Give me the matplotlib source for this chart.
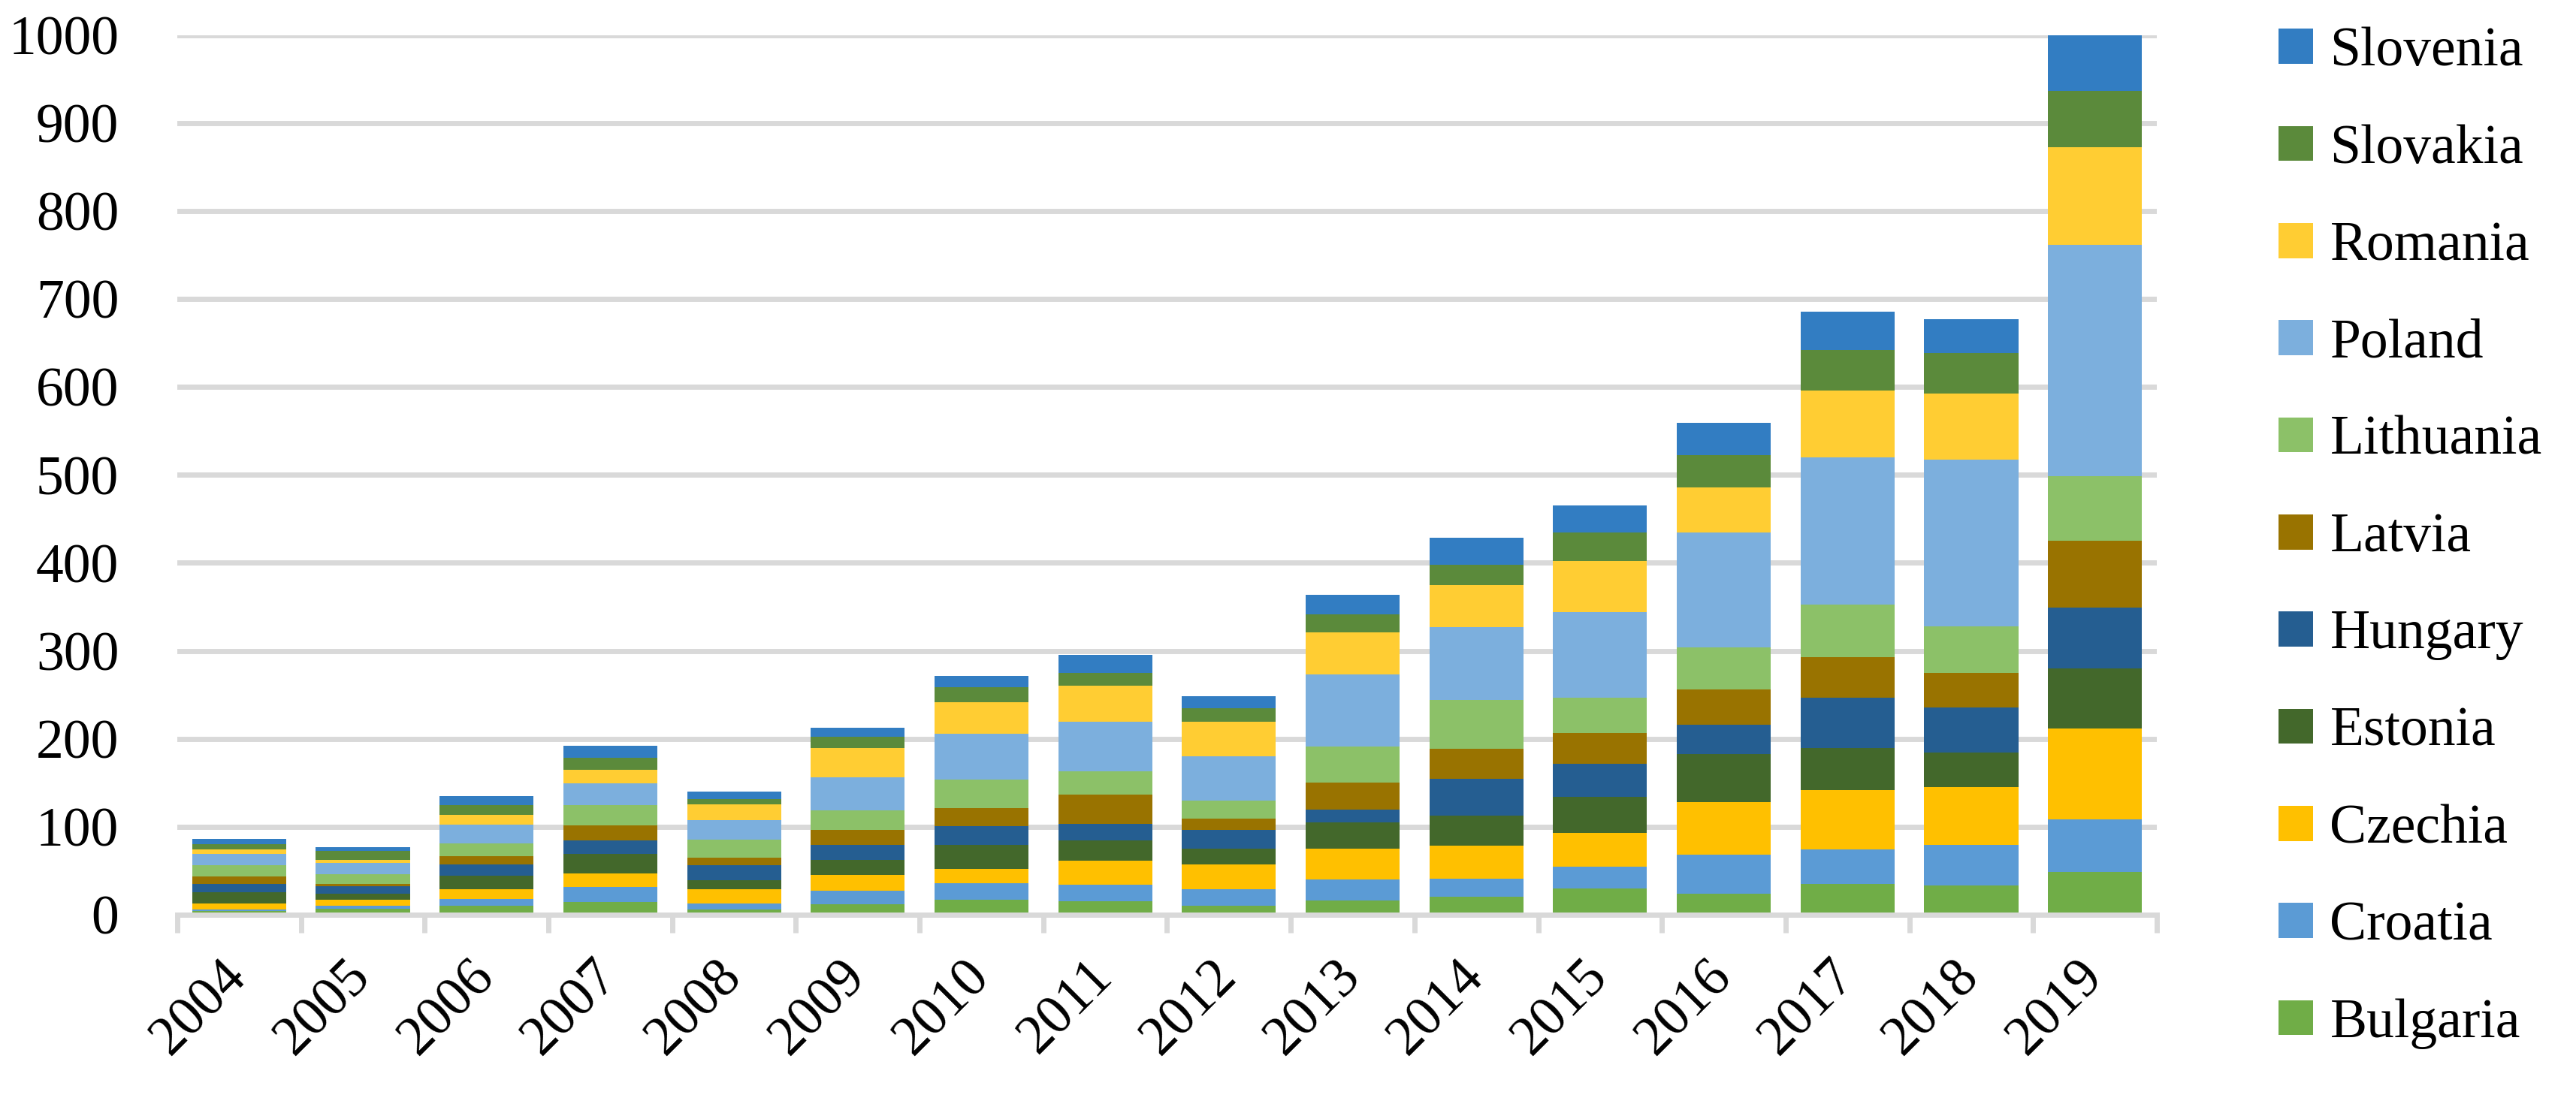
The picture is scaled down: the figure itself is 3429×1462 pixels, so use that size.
import matplotlib
matplotlib.use("Agg")
import matplotlib.pyplot as plt
import numpy as np

years = ["2004", "2005", "2006", "2007", "2008", "2009", "2010", "2011",
         "2012", "2013", "2014", "2015", "2016", "2017", "2018", "2019"]

countries = ["Bulgaria", "Croatia", "Czechia", "Estonia", "Hungary", "Latvia",
             "Lithuania", "Poland", "Romania", "Slovakia", "Slovenia"]

bulgaria  = [4.6, 6.6, 10.3, 14.8, 6.2, 11.9, 16.8, 15.6, 9.9, 16.0, 20.8, 29.6, 23.8, 35.4, 33.7, 48.8]
croatia   = [1.0, 4.0, 7.9, 17.0, 6.8, 15.6, 19.3, 18.8, 19.4, 24.3, 20.3, 25.0, 44.1, 38.6, 45.5, 59.8]
czechia   = [7.5, 6.8, 11.1, 15.3, 16.2, 17.9, 16.2, 27.2, 28.1, 35.1, 37.7, 38.2, 60.0, 67.4, 65.7, 102.7]
estonia   = [12.5, 6.3, 15.4, 22.1, 9.7, 17.0, 27.5, 23.1, 17.3, 29.4, 34.2, 41.6, 54.9, 48.5, 39.8, 68.9]
hungary   = [9.7, 8.5, 12.8, 15.3, 17.6, 17.0, 21.1, 18.7, 21.9, 14.8, 41.7, 36.8, 33.6, 56.5, 51.2, 69.0]
latvia    = [8.5, 3.1, 9.4, 17.1, 8.5, 17.1, 20.4, 33.2, 12.8, 30.8, 34.0, 35.1, 40.1, 46.8, 39.4, 76.0]
lithuania = [12.3, 10.8, 14.5, 22.7, 20.1, 22.4, 32.4, 26.5, 20.4, 40.9, 55.4, 40.1, 47.7, 59.5, 52.5, 73.5]
poland    = [13.4, 13.1, 21.4, 24.9, 22.4, 37.1, 52.3, 56.2, 50.3, 81.9, 82.8, 97.9, 130.0, 167.2, 189.5, 262.7]
romania   = [5.1, 3.4, 11.1, 15.3, 17.9, 33.2, 35.5, 40.9, 39.2, 47.7, 47.6, 57.4, 51.3, 75.7, 75.3, 111.2]
slovakia  = [5.4, 10.3, 10.5, 13.6, 5.9, 13.1, 17.3, 14.5, 15.6, 20.5, 23.2, 32.5, 36.9, 46.0, 45.9, 64.3]
slovenia  = [6.6, 4.3, 10.8, 13.6, 8.6, 10.3, 12.5, 20.5, 13.4, 22.0, 30.5, 31.1, 36.5, 43.9, 38.1, 63.1]

series = [bulgaria, croatia, czechia, estonia, hungary, latvia,
          lithuania, poland, romania, slovakia, slovenia]

colors = ["#70AD47", "#5B9BD5", "#FFC000", "#43682B", "#255E91", "#997300",
          "#8CC168", "#7CAFDD", "#FFCD33", "#5B8A3B", "#327DC2"]

yticks = [0, 100, 200, 300, 400, 500, 600, 700, 800, 900, 1000]

FONT = "Liberation Serif"
FS = 53

fig = plt.figure(figsize=(34.30, 14.62), dpi=100)
ax = fig.add_axes([236 / 3430, (1462 - 1218) / 1462,
                   (2871 - 236) / 3430, (1218 - 46.6) / 1462])

x = np.arange(len(years))
bottom = np.zeros(len(years))
handles = []
for name, vals, col in zip(countries, series, colors):
    v = np.array(vals)
    h = ax.bar(x, v, bottom=bottom, width=0.76, color=col, label=name,
               zorder=3, linewidth=0)
    handles.append(h)
    bottom += v

ax.set_xlim(-0.5, len(years) - 0.5)
ax.set_ylim(0, 1000)
ax.set_yticks(yticks)
ax.set_yticklabels([str(t) for t in yticks], fontsize=FS, family=FONT)
ax.yaxis.grid(True, color="#D9D9D9", linewidth=5, zorder=0)
ax.set_axisbelow(True)
ax.tick_params(axis="y", length=0, pad=56)

ax.set_xticks(x)
ax.set_xticklabels(years, fontsize=FS, family=FONT, rotation=45,
                   ha="right", va="center", rotation_mode="anchor")
ax.set_xticks(np.arange(-0.5, len(years)), minor=True)
ax.tick_params(axis="x", which="major", length=0, pad=52)
ax.tick_params(axis="x", which="minor", length=17, width=5, color="#D9D9D9")

for s in ["top", "right", "left"]:
    ax.spines[s].set_visible(False)
ax.spines["bottom"].set_color("#D9D9D9")
ax.spines["bottom"].set_linewidth(5)
ax.spines["bottom"].set_zorder(4)

leg = fig.legend(handles[::-1], countries[::-1], loc="upper left",
                 bbox_to_anchor=(3033 / 3430, 1 - 36 / 1462),
                 frameon=False, borderpad=0, borderaxespad=0,
                 handlelength=0.63, handleheight=0.6, handletextpad=0.3,
                 labelspacing=0.84, prop={"family": FONT, "size": FS})

fig.savefig("out.png", dpi=100, facecolor="white")
